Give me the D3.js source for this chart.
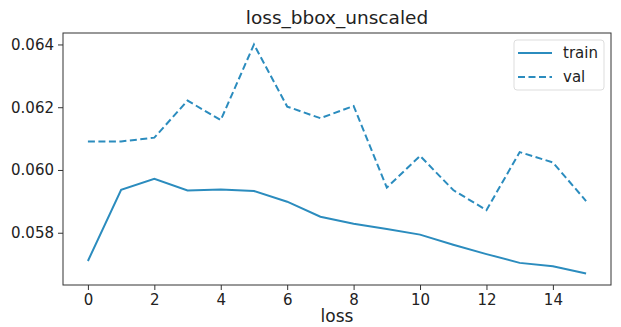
<!DOCTYPE html>
<html>
<head>
<meta charset="utf-8">
<script src="https://cdn.jsdelivr.net/npm/d3@7"></script>
<style>
  body { margin: 0; background: #fff; }
  svg text { font-family: "DejaVu Sans", sans-serif; fill: #222; }
</style>
</head>
<body>
<svg id="chart" width="621" height="327"></svg>
<script>
// epochs and the two loss series
const epochs = d3.range(0, 16);
const train = [0.05710, 0.05937, 0.05972, 0.05935, 0.05938, 0.05933, 0.05899, 0.05851,
               0.05829, 0.05812, 0.05794, 0.05762, 0.05732, 0.05704, 0.05693, 0.05670];
const val = [0.06091, 0.06091, 0.06103, 0.06221, 0.06159, 0.06400, 0.06202, 0.06165,
             0.06204, 0.05944, 0.06045, 0.05936, 0.05872, 0.06057, 0.06024, 0.05901];
const xTicks = [0, 2, 4, 6, 8, 10, 12, 14];
const yTicks = [0.058, 0.060, 0.062, 0.064];

const color = "#2b8cbe";
const m = { left: 63, right: 10, top: 33, bottom: 42 };
const W = 621, H = 327;

const svg = d3.select("#chart");

// matplotlib-like 5% margins
const yMin = d3.min(train.concat(val)), yMax = d3.max(train.concat(val));
const pad = (yMax - yMin) * 0.05;
const x = d3.scaleLinear().domain([-0.75, 15.75]).range([m.left, W - m.right]);
const y = d3.scaleLinear().domain([yMin - pad, yMax + pad]).range([H - m.bottom, m.top]);

const line = d3.line().x((d, i) => x(epochs[i])).y(d => y(d));

svg.append("path").datum(train)
  .attr("d", line).attr("fill", "none")
  .attr("stroke", color).attr("stroke-width", 2);

svg.append("path").datum(val)
  .attr("d", line).attr("fill", "none")
  .attr("stroke", color).attr("stroke-width", 2)
  .attr("stroke-dasharray", "7,3.5");

// axes
const xAxis = svg.append("g")
  .attr("transform", `translate(0,${H - m.bottom})`)
  .call(d3.axisBottom(x).tickValues(xTicks).tickSize(5).tickPadding(4).tickFormat(d3.format("d")));
const yAxis = svg.append("g")
  .attr("transform", `translate(${m.left},0)`)
  .call(d3.axisLeft(y).tickValues(yTicks).tickSize(5).tickPadding(4).tickFormat(d3.format(".3f")));
[xAxis, yAxis].forEach(a => {
  a.select(".domain").remove();
  a.selectAll("text").style("font-size", "15px").attr("fill", "#222");
  a.selectAll("line").attr("stroke", "#333");
});

// frame
svg.append("rect")
  .attr("x", m.left).attr("y", m.top)
  .attr("width", W - m.right - m.left).attr("height", H - m.bottom - m.top)
  .attr("fill", "none").attr("stroke", "#333").attr("stroke-width", 1);

// title and x label
svg.append("text").attr("x", (m.left + W - m.right) / 2).attr("y", 24)
  .attr("text-anchor", "middle").style("font-size", "18.5px").text("loss_bbox_unscaled");
svg.append("text").attr("x", (m.left + W - m.right) / 2).attr("y", 322)
  .attr("text-anchor", "middle").style("font-size", "17px").text("loss");

// legend
const lg = svg.append("g").attr("transform", "translate(514,40)");
lg.append("rect").attr("width", 90).attr("height", 50).attr("rx", 3)
  .attr("fill", "#fff").attr("stroke", "#ddd");
const items = [{ name: "train", dash: null }, { name: "val", dash: "7,3.5" }];
items.forEach((it, i) => {
  const yy = 13 + i * 24;
  lg.append("line").attr("x1", 4).attr("x2", 38).attr("y1", yy).attr("y2", yy)
    .attr("stroke", color).attr("stroke-width", 2).attr("stroke-dasharray", it.dash);
  lg.append("text").attr("x", 49).attr("y", yy + 5).style("font-size", "15px").text(it.name);
});
</script>
</body>
</html>
